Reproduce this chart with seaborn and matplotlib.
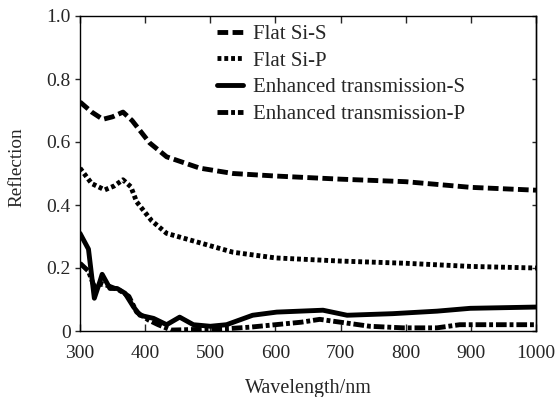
import numpy as np
import pandas as pd
import matplotlib
matplotlib.use("Agg")
import matplotlib.pyplot as plt
import seaborn as sns
from matplotlib.ticker import FuncFormatter

sns.set_style("white")
plt.rcParams['font.family'] = ['Liberation Serif', 'DejaVu Serif']

# Data
wl_flat_s = [300, 318, 335, 350, 366, 380, 407, 433, 484, 535, 600, 700, 800, 900, 1000]
r_flat_s = [0.727, 0.695, 0.672, 0.68, 0.695, 0.668, 0.597, 0.553, 0.517, 0.50, 0.492, 0.482, 0.474, 0.456, 0.447]

wl_flat_p = [300, 318, 338, 352, 366, 378, 387, 410, 433, 484, 535, 600, 700, 800, 900, 1000]
r_flat_p = [0.517, 0.468, 0.448, 0.46, 0.48, 0.458, 0.41, 0.35, 0.31, 0.28, 0.25, 0.232, 0.222, 0.215, 0.205, 0.200]

wl_enh_s = [300, 313, 322, 331, 334, 346, 357, 369, 382, 392, 413, 433, 453, 474, 500, 525, 565, 602, 673, 710, 780, 848, 899, 1000]
r_enh_s = [0.31, 0.26, 0.104, 0.16, 0.18, 0.135, 0.135, 0.12, 0.077, 0.05, 0.04, 0.02, 0.044, 0.02, 0.015, 0.02, 0.05, 0.06, 0.066, 0.05, 0.055, 0.063, 0.072, 0.076]

wl_enh_p = [300, 313, 322, 335, 360, 375, 387, 405, 420, 440, 460, 500, 530, 560, 600, 640, 668, 710, 745, 796, 848, 883, 1000]
r_enh_p = [0.215, 0.19, 0.14, 0.15, 0.13, 0.11, 0.06, 0.035, 0.02, 0.003, 0.004, 0.006, 0.008, 0.012, 0.02, 0.028, 0.037, 0.025, 0.015, 0.01, 0.01, 0.02, 0.02]

labels = ["Flat Si-S", "Flat Si-P", "Enhanced transmission-S", "Enhanced transmission-P"]
series = [(wl_flat_s, r_flat_s), (wl_flat_p, r_flat_p), (wl_enh_s, r_enh_s), (wl_enh_p, r_enh_p)]

frames = []
for lab, (w, r) in zip(labels, series):
    frames.append(pd.DataFrame({"Wavelength": w, "Reflection": r, "Series": lab}))
df = pd.concat(frames, ignore_index=True)

fig = plt.figure(figsize=(5.57, 3.97), dpi=100)
ax = fig.add_axes([80/557, 1 - 331/397, (536-80)/557, (331-16)/397])

styles = {
    "Flat Si-S": (0, (2.2, 0.9)),
    "Flat Si-P": (0, (0.8, 0.6)),
    "Enhanced transmission-S": "-",
    "Enhanced transmission-P": (0, (2.2, 0.6, 0.8, 0.6)),
}
for lab in labels:
    sub = df[df["Series"] == lab]
    sns.lineplot(data=sub, x="Wavelength", y="Reflection", ax=ax, color="black",
                 linewidth=3.5, label=lab, linestyle=styles[lab], sort=True)

ax.set_xlim(300, 1000)
ax.set_ylim(0, 1.0)
ax.set_xticks(np.arange(300, 1001, 100))
ax.set_yticks([0, 0.2, 0.4, 0.6, 0.8, 1.0])
ax.yaxis.set_major_formatter(FuncFormatter(lambda v, p: "0" if v == 0 else f"{v:.1f}"))
ax.tick_params(axis="x", direction="in", top=True, bottom=True, length=5, width=1, labelsize=14, pad=10)
ax.tick_params(axis="y", left=True, right=False, direction="out", length=3.5, width=1, labelsize=14, pad=3)
ax2 = ax.secondary_yaxis("right")
ax2.set_yticks([0, 0.2, 0.4, 0.6, 0.8, 1.0])
ax2.tick_params(direction="in", length=3, width=1, labelright=False)
for s in ax.spines.values():
    s.set_color("black")
    s.set_linewidth(1.0)
ax2.spines["right"].set_linewidth(1.0)

ax.set_xlabel("Wavelength/nm", fontsize=14.5)
ax.set_ylabel("Reflection", fontsize=13.8)
ax.xaxis.set_label_coords((308 - 80) / 456, -(388 - 331) / 315)
ax.yaxis.set_label_coords(-(80 - 17) / 456, (331 - 167) / 315)
ax.xaxis.label.set_va("center")
ax.yaxis.label.set_va("center")

leg = ax.legend(loc="upper left", bbox_to_anchor=(0.283, 1.0), frameon=False, fontsize=15,
                handlelength=1.25, handletextpad=0.45, labelspacing=0.34, borderaxespad=0.0)

fig.savefig("out.png", dpi=100)
